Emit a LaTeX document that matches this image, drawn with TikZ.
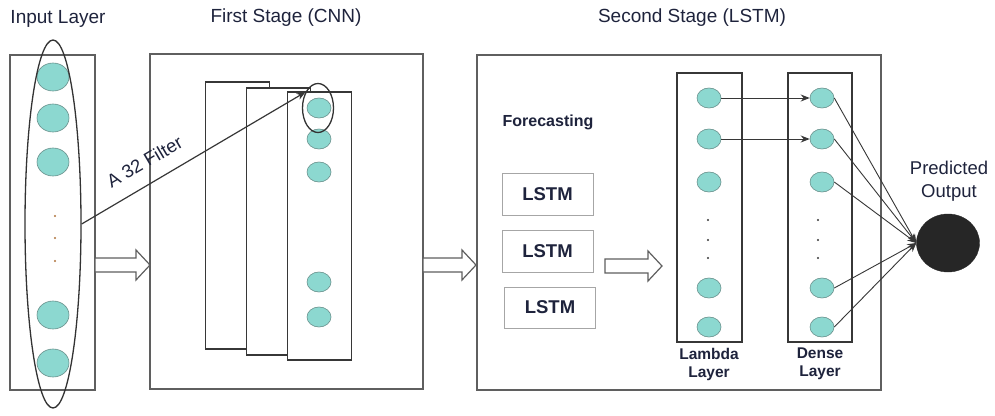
\documentclass[tikz,border=0pt]{standalone}
\usepackage{fontspec}
\setmainfont{Liberation Sans}
\usetikzlibrary{shapes.geometric,arrows.meta}
\definecolor{txt}{RGB}{30,35,60}
\definecolor{cellfill}{RGB}{140,216,208}
\definecolor{celledge}{RGB}{105,145,140}
\definecolor{framegray}{RGB}{95,95,95}
\definecolor{linegray}{RGB}{55,55,55}
\definecolor{dotcol}{RGB}{175,115,60}
% hollow block arrow: x start, x end, y
\newcommand{\hollowarrow}[3]{%
  \draw[framegray,line width=1.2pt,fill=white,line join=miter] (#1,#3-7) -- (#2-14,#3-7) -- (#2-14,#3-15)
    -- (#2,#3) -- (#2-14,#3+15) -- (#2-14,#3+7) -- (#1,#3+7) -- cycle;}

\begin{document}
\begin{tikzpicture}[x=1pt,y=-1pt,
  every node/.style={text=txt},
  frame/.style={draw=framegray,line width=1.7pt,fill=white,inner sep=0pt},
  layerbox/.style={draw=linegray,line width=1.5pt,fill=white,inner sep=0pt,minimum width=64pt,minimum height=268pt},
  cell/.style={ellipse,draw=celledge,line width=0.6pt,fill=cellfill,inner sep=0pt,minimum width=24pt,minimum height=20pt},
  bigcell/.style={cell,minimum width=32pt,minimum height=28pt},
  ring/.style={ellipse,draw=black!80,line width=1.3pt,inner sep=0pt},
  lstmbox/.style={draw=black!35,line width=1pt,fill=white,minimum width=91pt,minimum height=42pt,font=\fontsize{18.5}{20}\selectfont\bfseries},
  title/.style={font=\fontsize{19}{21}\selectfont},
  lbl/.style={font=\fontsize{15.5}{18}\selectfont\bfseries,align=center},
  conn/.style={linegray,line width=0.9pt,-{Stealth[length=9pt,width=7pt]}},
  vdot/.style={circle,fill=#1,inner sep=0pt,minimum size=2.4pt},
]
\useasboundingbox (0,0) rectangle (995,415);

% titles
\node[title] (tin) at (58,19) {Input Layer};
\node[title] (tcnn) at (286,18) {First Stage (CNN)};
\node[title] (tlstm) at (692,18) {Second Stage (LSTM)};

% input layer
\node[frame,minimum width=85pt,minimum height=335pt] (inbox) at (52.5,222.5) {};
\foreach \y [count=\i] in {77,118,162,315,363}
  \node[bigcell] (in\i) at (53,\y) {};
\foreach \y [count=\i] in {216,238,261}
  \node[vdot=dotcol] (ind\i) at (55,\y) {};
\node[ring,minimum width=56pt,minimum height=368pt] (window) at (53,224) {};

% first stage
\node[frame,minimum width=273pt,minimum height=335pt] (cnnbox) at (286.5,221.5) {};
\node[layerbox,minimum height=267pt] (map1) at (237.5,215.5) {};
\node[layerbox,minimum height=267pt] (map2) at (278.5,221.5) {};
\node[layerbox] (map3) at (319.5,226) {};
\foreach \y [count=\i] in {108,139,172,282,317}
  \node[cell] (cn\i) at (319,\y) {};
\node[ring,minimum width=31pt,minimum height=49pt] (kernel) at (318,108) {};
\draw[conn,line width=1.2pt] (window.east) -- node[pos=0.33,sloped,above=11pt,font=\fontsize{18.5}{20}\selectfont] (flabel) {A 32 Filter} (kernel.128);

% second stage
\node[frame,minimum width=404pt,minimum height=335pt] (lstmstage) at (679,222.5) {};
\node[font=\fontsize{16}{18}\selectfont\bfseries] (fc) at (548,122) {Forecasting};
\node[lstmbox] (ls1) at (547.5,194) {LSTM};
\node[lstmbox] (ls2) at (547.5,251) {LSTM};
\node[lstmbox,minimum height=41pt] (ls3) at (550,307.5) {LSTM};

\node[layerbox,minimum width=65pt,minimum height=269pt] (lambda) at (709.5,207.5) {};
\node[layerbox,minimum height=269pt] (dense) at (820,207.5) {};
\foreach \y [count=\i] in {98,139,182,288,327} {
  \node[cell] (la\i) at (709,\y) {};
  \node[cell] (de\i) at (822,\y) {};
}
\foreach \y [count=\i] in {220,240,258} {
  \node[vdot=linegray] (lad\i) at (708,\y) {};
  \node[vdot=linegray] (ded\i) at (818,\y) {};
}
\node[lbl] (lalbl) at (709,364) {Lambda\\Layer};
\node[lbl] (delbl) at (820,364) {Dense\\Layer};

% output
\node[ellipse,fill=black!85,draw=black!85,minimum width=63pt,minimum height=58pt] (out) at (948,243) {};
\node[title,font=\fontsize{18.5}{23}\selectfont,align=center] (outlbl) at (949,181) {Predicted\\Output};

\foreach \i in {1,2}
  \draw[conn] (la\i) -- (de\i);
\foreach \i in {1,...,5}
  \draw[conn] (de\i.east) -- (out.west);

% stage arrows
\hollowarrow{95}{150}{265}
\hollowarrow{423}{476}{265}
\hollowarrow{605}{662}{266}
\end{tikzpicture}
\end{document}
